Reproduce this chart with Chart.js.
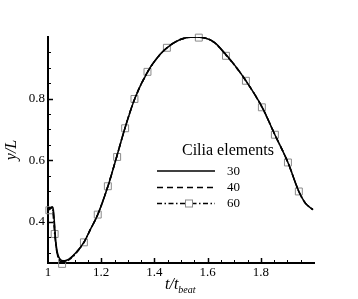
<!DOCTYPE html>
<html><head><meta charset="utf-8">
<script src="https://cdn.jsdelivr.net/npm/chart.js@4/dist/chart.umd.min.js"></script>
<style>
html,body{margin:0;padding:0;background:#fff;}
#wrap{position:relative;width:358px;height:299px;}
#xt{position:absolute;left:165px;top:276px;font:italic 16px "Liberation Serif",serif;white-space:nowrap;color:#000;line-height:16px;}
#xt span{font-size:10px;position:relative;top:4px;}
</style></head><body>
<div id="wrap"><canvas id="c"></canvas><div id="xt">t/t<span>beat</span></div></div>
<script>
const seriesLabels = ['30', '40', '60'];
const legendTitle = 'Cilia elements';
const xTickLabels = [1, 1.2, 1.4, 1.6, 1.8];
const yTickLabels = [0.4, 0.6, 0.8];

const x30 = [1.000,1.008,1.016,1.020,1.024,1.028,1.032,1.038,1.045,1.056,1.070,1.085,1.100,1.135,1.160,1.187,1.225,1.258,1.289,1.326,1.375,1.421,1.447,1.495,1.545,1.590,1.627,1.669,1.706,1.744,1.804,1.853,1.902,1.943,1.966,1.985,1.996];
const y30 = [0.440,0.444,0.449,0.440,0.400,0.350,0.318,0.292,0.280,0.274,0.276,0.284,0.296,0.334,0.377,0.424,0.515,0.611,0.703,0.800,0.888,0.943,0.965,0.991,1.000,0.997,0.982,0.943,0.904,0.858,0.774,0.683,0.593,0.499,0.463,0.447,0.440];

const x40 = [1.000,1.008,1.016,1.020,1.024,1.028,1.032,1.038,1.045,1.056,1.070,1.085,1.100,1.135,1.160,1.187,1.225,1.258,1.289,1.326,1.375,1.421,1.447,1.495,1.545,1.590,1.627,1.669,1.706,1.744,1.804,1.853,1.902,1.943,1.966,1.985,1.996];
const y40 = [0.439,0.444,0.448,0.432,0.390,0.342,0.310,0.287,0.277,0.272,0.275,0.283,0.295,0.334,0.377,0.424,0.515,0.611,0.704,0.800,0.888,0.943,0.965,0.991,1.000,0.997,0.981,0.942,0.904,0.858,0.774,0.683,0.593,0.499,0.463,0.447,0.440];

const x60 = [1.000,1.006,1.012,1.017,1.021,1.025,1.030,1.036,1.044,1.053,1.065,1.080,1.100,1.135,1.160,1.187,1.225,1.258,1.289,1.326,1.375,1.421,1.447,1.495,1.545,1.590,1.627,1.669,1.706,1.744,1.804,1.853,1.902,1.943,1.966,1.985,1.996];
const y60 = [0.438,0.441,0.445,0.447,0.405,0.361,0.320,0.292,0.275,0.266,0.270,0.278,0.293,0.334,0.377,0.424,0.516,0.611,0.704,0.799,0.887,0.943,0.965,0.991,1.000,0.997,0.981,0.941,0.903,0.858,0.773,0.683,0.593,0.499,0.463,0.447,0.440];

const markerX60 = [1.005,1.025,1.053,1.135,1.187,1.225,1.260,1.290,1.325,1.374,1.447,1.567,1.669,1.744,1.804,1.853,1.902,1.943];
const markerY60 = [0.438,0.361,0.264,0.334,0.424,0.516,0.611,0.704,0.799,0.887,0.965,0.998,0.939,0.858,0.772,0.683,0.593,0.499];

const pts = (xs, ys) => xs.map((x, i) => ({x: x, y: ys[i]}));
const SERIF = '"Liberation Serif", "Times New Roman", serif';
const isMult = (v, s) => Math.abs(v / s - Math.round(v / s)) < 1e-6;

const lineDs = (label, xs, ys, dash) => ({
  label: label, data: pts(xs, ys), showLine: true, pointRadius: 0,
  borderColor: '#000', borderWidth: 1.5, borderDash: dash,
  cubicInterpolationMode: 'monotone', fill: false
});

const inwardTicks = {
  id: 'inwardTicks',
  afterDraw(chart) {
    const ctx = chart.ctx, xs = chart.scales.x, ys = chart.scales.y, a = chart.chartArea;
    ctx.save();
    ctx.strokeStyle = '#000';
    ys.ticks.forEach(t => {
      const v = t.value;
      if (v <= ys.min + 1e-9 || v >= ys.max - 1e-9) return;
      const major = isMult(v, 0.2);
      const p = Math.round(ys.getPixelForValue(v)) + 0.5;
      ctx.lineWidth = major ? 1.5 : 1;
      ctx.beginPath(); ctx.moveTo(a.left, p); ctx.lineTo(a.left + (major ? 5 : 3), p); ctx.stroke();
    });
    xs.ticks.forEach(t => {
      const v = t.value;
      if (v <= xs.min + 1e-9 || v >= xs.max - 1e-9) return;
      const major = isMult(v, 0.2);
      const p = Math.round(xs.getPixelForValue(v)) + 0.5;
      ctx.lineWidth = major ? 1.5 : 1;
      ctx.beginPath(); ctx.moveTo(p, a.bottom); ctx.lineTo(p, a.bottom - (major ? 5 : 3)); ctx.stroke();
    });
    ctx.restore();
  }
};

const innerLegend = {
  id: 'innerLegend',
  afterDraw(chart) {
    const ctx = chart.ctx;
    ctx.save();
    ctx.fillStyle = '#000';
    ctx.textBaseline = 'middle';
    ctx.textAlign = 'left';
    ctx.font = '16px ' + SERIF;
    ctx.fillText(legendTitle, 182, 151);
    const rows = [171, 187.5, 203.5];
    ctx.font = '13px ' + SERIF;
    for (let i = 0; i < 3; i++) {
      const ds = chart.data.datasets[i];
      const y = rows[i];
      ctx.strokeStyle = ds.borderColor;
      ctx.lineWidth = ds.borderWidth;
      ctx.setLineDash(ds.borderDash || []);
      ctx.beginPath(); ctx.moveTo(157, y); ctx.lineTo(215, y); ctx.stroke();
      ctx.setLineDash([]);
      ctx.fillText(ds.label, 227, y + 0.5);
    }
    const m = chart.data.datasets[3];
    ctx.strokeStyle = m.borderColor;
    ctx.lineWidth = 1;
    ctx.fillStyle = '#fff';
    ctx.fillRect(185.5, rows[2] - 3.5, 7, 7);
    ctx.strokeRect(185.5, rows[2] - 3.5, 7, 7);
    ctx.restore();
  }
};

new Chart(document.getElementById('c'), {
  type: 'scatter',
  data: {
    datasets: [
      lineDs(seriesLabels[0], x30, y30, []),
      lineDs(seriesLabels[1], x40, y40, [6, 4]),
      lineDs(seriesLabels[2], x60, y60, [5, 2.5, 1.5, 2.5]),
      {
        label: seriesLabels[2] + ' markers', data: pts(markerX60, markerY60), showLine: false,
        pointStyle: 'rect', pointRadius: 4.9, borderColor: '#8a8a8a', borderWidth: 1,
        backgroundColor: 'rgba(0,0,0,0)', clip: false
      }
    ]
  },
  options: {
    responsive: true, maintainAspectRatio: false, animation: false,
    layout: {padding: {left: 0, right: 44, top: 37, bottom: 0}},
    plugins: {legend: {display: false}, tooltip: {enabled: false}},
    scales: {
      x: {
        type: 'linear', min: 1, max: 2,
        border: {display: true, color: '#000', width: 2},
        grid: {display: false, drawTicks: false},
        ticks: {
          stepSize: 0.05, autoSkip: false, maxRotation: 0, padding: 2, color: '#000',
          font: {family: SERIF, size: 13},
          callback: v => xTickLabels.some(t => Math.abs(t - v) < 1e-6) ? (Math.abs(v - 1) < 1e-6 ? '1' : v.toFixed(1)) : ''
        },
        afterFit: s => { s.height = 36; }
      },
      y: {
        type: 'linear', min: 0.267, max: 1.0,
        border: {display: true, color: '#000', width: 2},
        grid: {display: false, drawTicks: false},
        ticks: {
          stepSize: 0.05, includeBounds: false, autoSkip: false, padding: 3, color: '#000',
          font: {family: SERIF, size: 13},
          callback: v => yTickLabels.some(t => Math.abs(t - v) < 1e-6) ? v.toFixed(1) : ''
        },
        title: {display: true, text: 'y/L', color: '#000', font: {family: SERIF, size: 16, style: 'italic'}, padding: {top: 2, bottom: 0}},
        afterFit: s => { s.width = 48; }
      }
    }
  },
  plugins: [inwardTicks, innerLegend]
});
</script>
</body></html>
